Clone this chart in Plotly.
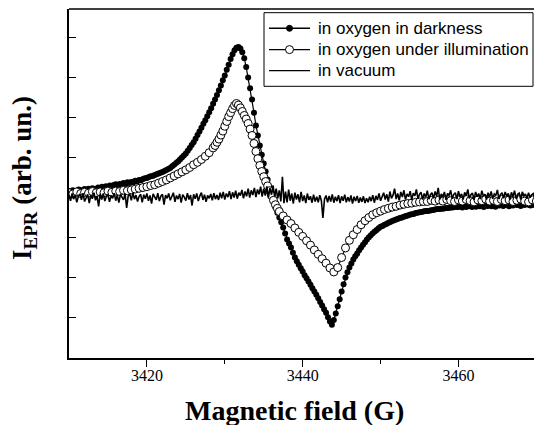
import numpy as np
import plotly.graph_objects as go

# ---------------- data ----------------
# Dark series: field from 3410 G in 0.25 G steps
DARK_START = 3410.0
DARK_STEP = 0.25
dark_signal = [
    0.16, 0.13, 0.18, 0.15, 0.17, 0.20, 0.16, 0.19, 0.21, 0.18, 0.22, 0.19, 0.23, 0.20, 0.22, 0.25,
    0.23, 0.27, 0.24, 0.28, 0.26, 0.30, 0.27, 0.31, 0.33, 0.30, 0.34, 0.32, 0.36, 0.34, 0.38, 0.36,
    0.39, 0.38, 0.42, 0.40, 0.44, 0.43, 0.46, 0.48, 0.49, 0.51, 0.53, 0.54, 0.56, 0.58, 0.60, 0.62,
    0.64, 0.66, 0.69, 0.71, 0.74, 0.78, 0.82, 0.86, 0.90, 0.95, 1.00, 1.05, 1.10, 1.17, 1.24, 1.31,
    1.38, 1.47, 1.56, 1.65, 1.74, 1.84, 1.93, 2.03, 2.13, 2.23, 2.34, 2.45, 2.56, 2.68, 2.80, 2.93,
    3.05, 3.19, 3.32, 3.46, 3.58, 3.68, 3.74, 3.76, 3.72, 3.63, 3.48, 3.26, 3.00, 2.73, 2.45, 2.12,
    1.80, 1.55, 1.30, 1.07, 0.85, 0.65, 0.45, 0.26, 0.08, -0.09, -0.25, -0.38, -0.50, -0.62, -0.75, -0.90,
    -1.05, -1.15, -1.25, -1.38, -1.50, -1.59, -1.68, -1.77, -1.85, -1.94, -2.02, -2.10, -2.18, -2.27, -2.35, -2.43,
    -2.52, -2.61, -2.70, -2.79, -2.88, -2.99, -3.10, -3.18, -3.06, -2.90, -2.72, -2.54, -2.35, -2.17, -2.00, -1.87,
    -1.75, -1.65, -1.55, -1.47, -1.40, -1.32, -1.25, -1.18,
    -1.12, -1.05, -0.99, -0.94, -0.89, -0.85, -0.81, -0.77, -0.73, -0.71, -0.68, -0.66, -0.63, -0.61, -0.59, -0.57,
    -0.55, -0.53, -0.51, -0.50, -0.48, -0.46, -0.45, -0.43, -0.42, -0.41, -0.39, -0.38, -0.37, -0.36, -0.35, -0.34,
    -0.34, -0.33, -0.32, -0.31, -0.30, -0.29, -0.29, -0.28, -0.28, -0.27, -0.26, -0.26, -0.25, -0.25, -0.24, -0.24,
    -0.24,
    -0.21, -0.25, -0.20, -0.24, -0.22, -0.19, -0.24, -0.21, -0.23, -0.18, -0.22, -0.20, -0.24, -0.19, -0.21, -0.17,
    -0.22, -0.19, -0.23, -0.18, -0.20, -0.16, -0.21, -0.19, -0.17, -0.22, -0.18, -0.20, -0.15, -0.19, -0.17, -0.21,
    -0.16, -0.19, -0.14, -0.18, -0.20, -0.16, -0.19, -0.17,
]

# Illuminated series: three sampling blocks (coarse / fine / coarse)
ILLUM_BLOCKS = [(3410.0, 3428.5, 0.5), (3428.75, 3437.0, 0.25), (3437.5, 3470.0, 0.5)]
illum_signal = [
    0.12, 0.09, 0.14, 0.10, 0.13, 0.11, 0.15, 0.12, 0.14, 0.12, 0.16, 0.13, 0.16, 0.15, 0.18, 0.17,
    0.19, 0.21, 0.23, 0.25, 0.27, 0.30, 0.32, 0.36, 0.40, 0.44, 0.49, 0.54, 0.59, 0.64, 0.69, 0.75,
    0.82, 0.88, 0.95, 1.03, 1.12, 1.24,
    1.30, 1.38, 1.46, 1.56, 1.66, 1.78, 1.90, 2.02, 2.12, 2.22, 2.30, 2.35, 2.31, 2.24, 2.15, 2.05,
    1.96, 1.85, 1.71, 1.55, 1.35, 1.15, 0.97, 0.80, 0.65, 0.52, 0.40, 0.29, 0.17, 0.05, -0.07, -0.18,
    -0.27, -0.35,
    -0.46, -0.56, -0.65, -0.76, -0.87, -0.97, -1.08, -1.19, -1.31, -1.42, -1.53, -1.64, -1.76, -1.86, -1.75,
    -1.50, -1.26, -1.07, -0.93, -0.80, -0.68, -0.58, -0.50, -0.43, -0.38, -0.34, -0.30, -0.27, -0.24, -0.22,
    -0.19, -0.17, -0.15, -0.14, -0.12, -0.11, -0.10,
    -0.10, -0.07, -0.09, -0.06, -0.09, -0.05, -0.08, -0.10, -0.06, -0.09, -0.05, -0.08, -0.11, -0.06, -0.08,
    -0.04, -0.09, -0.07, -0.10, -0.05, -0.08, -0.06, -0.10, -0.07, -0.04, -0.09, -0.11, -0.06, -0.09,
]

# Vacuum series: field from 3410 G in 0.2 G steps
VAC_START = 3410.0
VAC_STEP = 0.2
vacuum_signal = [
    0.05, -0.08, 0.10, -0.04, 0.07, -0.12, 0.03, 0.09, -0.06, 0.11, -0.10, 0.02, 0.08, -0.14, 0.06, -0.03,
    0.12, -0.07, 0.04, -0.22, 0.09, -0.05, 0.10, -0.09, 0.03, 0.07, -0.11, 0.05, -0.02, 0.11, -0.08, 0.06,
    -0.13, 0.08, 0.01, -0.06, 0.10, -0.26, 0.04, 0.09, -0.07, 0.12, -0.04, 0.06, -0.10, 0.03, 0.08, -0.12,
    0.07, -0.03, 0.10, -0.08, 0.05, -0.15, 0.09, 0.02, -0.06, 0.11, -0.09, 0.04, 0.08, -0.18, 0.06, -0.02,
    0.10, -0.07, 0.03, 0.12, -0.11, 0.05, -0.04, 0.09, -0.13, 0.07, 0.01, -0.08, 0.11, -0.05, 0.06, -0.20,
    0.08, -0.03, 0.10, -0.09, 0.04, 0.12, -0.06, 0.07, -0.11, 0.05, -0.02, 0.09, -0.07, 0.11, -0.04, 0.06,
    -0.06, 0.12, -0.02, 0.14, -0.05, 0.10, 0.01, 0.16, -0.04, 0.13, 0.00, 0.17, -0.03, 0.12, 0.05, 0.19,
    -0.02, 0.15, 0.03, 0.22, 0.00, 0.18, 0.06, 0.24, 0.01, 0.20, 0.08, 0.27, 0.02, 0.22, 0.05, 0.28,
    0.00, 0.24, 0.07, 0.30, 0.03, 0.22, -0.02, 0.18,
    -0.10, 0.52, -0.14, 0.15, -0.12, 0.20, -0.08, 0.10, -0.15, 0.12, -0.05, 0.08, -0.12, 0.14, -0.09, 0.05,
    -0.14, 0.10, -0.06, 0.03, -0.13, 0.07, -0.10, 0.02, -0.12, 0.06, -0.08, -0.51, -0.04, 0.05, -0.12, 0.04,
    -0.10, 0.08, -0.13, 0.02, -0.09, 0.06, -0.14, 0.03, -0.08, 0.07, -0.12, 0.01, -0.10, 0.05, -0.15, 0.02,
    -0.09, 0.04, -0.13, 0.00, -0.11, 0.03, -0.14, -0.02,
    -0.12, 0.02, -0.09, 0.06, -0.13, 0.04, -0.06, 0.10, -0.08, 0.03, 0.12, -0.05, 0.08, -0.10, 0.15, -0.02,
    0.06, 0.22, -0.04, 0.10, -0.07, 0.14, 0.01, 0.18, -0.05, 0.09, 0.02, 0.16, -0.06, 0.11, 0.04, 0.20,
    -0.03, 0.08, 0.13, -0.05, 0.10, 0.01, 0.17, -0.04, 0.07, 0.12, -0.02, 0.15, 0.03, 0.24, -0.05, 0.09,
    0.02, 0.14, -0.06, 0.10, 0.05, 0.18, -0.03, 0.08, 0.12, -0.04, 0.16, 0.01, 0.09, -0.05, 0.13, 0.04,
    0.20, -0.02, 0.07, 0.11, -0.06, 0.14, 0.02, 0.10, -0.04, 0.17, 0.03, 0.08, -0.05, 0.12, 0.01, 0.15,
    -0.03, 0.09, 0.05, 0.19, -0.04, 0.08, 0.12, -0.02, 0.14, 0.03, 0.10, -0.06, 0.13, 0.02, 0.17, -0.03,
    0.08, 0.11, -0.05, 0.14, 0.04, 0.09, -0.02, 0.12, 0.00, 0.07, 0.10, -0.04, 0.06,
]

SERIES_NAMES = ["in oxygen in darkness", "in oxygen under illumination", "in vacuum"]
X_TICKS = [3420, 3440, 3460]
X_MINOR = [3430, 3450]
X_RANGE = [3410, 3469.7]

# ---------------- sampling grids ----------------
dark_field = DARK_START + DARK_STEP * np.arange(len(dark_signal))
illum_field = np.concatenate([np.arange(a, b + 1e-9, s) for a, b, s in ILLUM_BLOCKS])
vac_field = VAC_START + VAC_STEP * np.arange(len(vacuum_signal))
assert len(illum_field) == len(illum_signal)

fig = go.Figure()
fig.add_trace(go.Scatter(
    x=dark_field, y=dark_signal, name=SERIES_NAMES[0], mode="lines+markers",
    line=dict(color="black", width=1.2),
    marker=dict(symbol="circle", size=6, color="black"),
))
fig.add_trace(go.Scatter(
    x=illum_field, y=illum_signal, name=SERIES_NAMES[1], mode="lines+markers",
    line=dict(color="black", width=1.2),
    marker=dict(symbol="circle", size=8, color="white", line=dict(color="black", width=1)),
))
fig.add_trace(go.Scatter(
    x=vac_field, y=vacuum_signal, name=SERIES_NAMES[2], mode="lines",
    line=dict(color="black", width=1.6),
))

serif = "Liberation Serif"
sans = "Liberation Sans"

# ---------------- hand-built legend (box, samples, labels) ----------------
L, R, T, B = 69, 534, 9, 358          # plot area in pixels
def px(x):
    return (x - L) / (R - L)
def py(y):
    return (B - y) / (B - T)

rows = [28.3, 49.6, 70.6]
shapes = [dict(type="line", xref="paper", yref="paper", x0=0, x1=1, y0=1, y1=1,
               line=dict(color="black", width=1.5))]
shapes.append(dict(type="rect", xref="paper", yref="paper", x0=px(264), x1=px(533),
                   y0=py(86.3), y1=py(12.7), line=dict(color="black", width=1),
                   fillcolor="white", layer="above"))
for r in rows:
    shapes.append(dict(type="line", xref="paper", yref="paper", x0=px(269), x1=px(310),
                       y0=py(r), y1=py(r), line=dict(color="black", width=1.4)))
for r, fill, d in [(rows[0], "black", 6), (rows[1], "white", 8)]:
    shapes.append(dict(type="circle", xref="paper", yref="paper",
                       xsizemode="pixel", ysizemode="pixel",
                       xanchor=px(289.5), yanchor=py(r),
                       x0=-d / 2, x1=d / 2, y0=-d / 2, y1=d / 2,
                       fillcolor=fill, line=dict(color="black", width=1)))

annotations = [
    dict(text="<b>Magnetic field (G)</b>", xref="paper", yref="paper",
         x=0.484, y=-0.150, xanchor="center", yanchor="middle", showarrow=False,
         font=dict(family=serif, size=28, color="black")),
    dict(text="<b>I<sub>EPR</sub> (arb. un.)</b>", xref="paper", yref="paper",
         x=-0.0968, y=0.516, xanchor="center", yanchor="middle", showarrow=False,
         textangle=-90, font=dict(family=serif, size=27, color="black")),
]
for r, name in zip(rows, SERIES_NAMES):
    annotations.append(dict(text=name, xref="paper", yref="paper", x=px(315.5), y=py(r),
                            xanchor="left", yanchor="middle", showarrow=False,
                            font=dict(family=sans, size=17, color="black")))

fig.update_layout(
    width=534, height=425,
    margin=dict(l=L, r=534 - R, t=T, b=425 - B),
    paper_bgcolor="white", plot_bgcolor="white",
    showlegend=False,
    xaxis=dict(
        range=X_RANGE, showgrid=False, zeroline=False,
        showline=True, linecolor="black", linewidth=1.5,
        tickmode="array", tickvals=X_TICKS,
        ticks="outside", ticklen=7, tickwidth=1.2, tickcolor="black",
        showticklabels=False,
        minor=dict(tickmode="array", tickvals=X_MINOR, ticks="outside", ticklen=4,
                   tickwidth=1.2, tickcolor="black", showgrid=False),
    ),
    # label-only copy of the field axis, placing the numbers as in the original
    xaxis2=dict(
        range=X_RANGE, overlaying="x", anchor="free", position=0, side="bottom",
        showgrid=False, zeroline=False, showline=False,
        tickmode="array", tickvals=X_TICKS, ticktext=[str(v) for v in X_TICKS],
        ticks="", ticklabelstandoff=6,
        tickfont=dict(family=serif, size=16, color="black"),
    ),
    yaxis=dict(
        range=[-4.01, 4.71], showgrid=False, zeroline=False,
        showline=True, linecolor="black", linewidth=1.5,
        tick0=0, dtick=1, ticks="inside", ticklen=7, tickwidth=1.2, tickcolor="black",
        showticklabels=False,
    ),
    shapes=shapes,
    annotations=annotations,
)
# an empty trace keeps the label axis alive
fig.add_trace(go.Scatter(x=[], y=[], xaxis="x2", yaxis="y", showlegend=False, hoverinfo="skip"))

fig.write_html("out.html")
